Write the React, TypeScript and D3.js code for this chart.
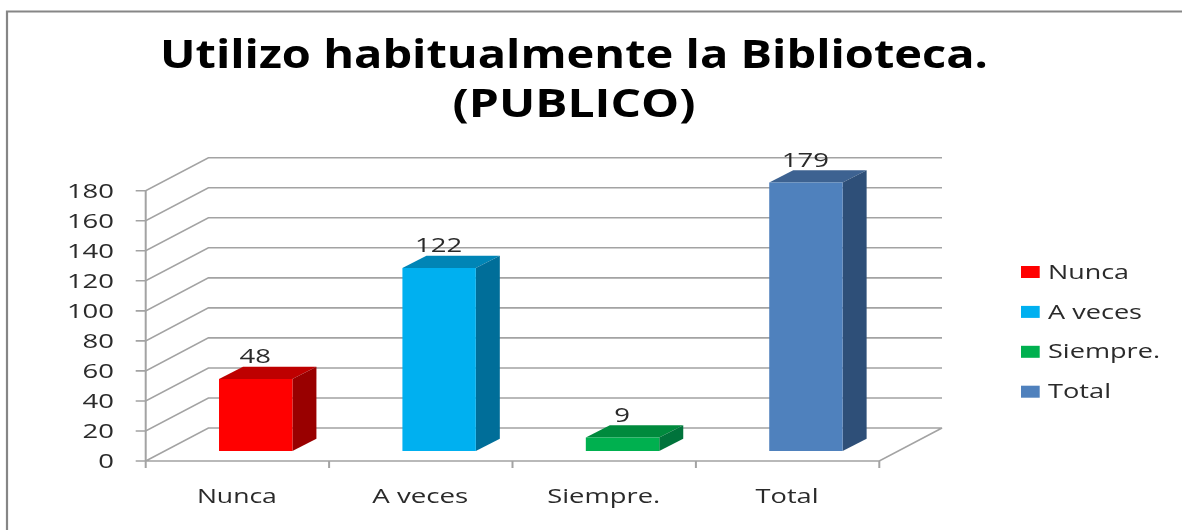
import React from "react";
import * as d3 from "d3";

const categories = ["Nunca", "A veces", "Siempre.", "Total"];
const values = [48, 122, 9, 179];
const frontColors = ["#FF0000", "#00B0F0", "#00B050", "#4F81BD"];
const topColors = ["#BE0000", "#0085B6", "#008A3E", "#3C6291"];
const sideColors = ["#990000", "#006E99", "#00733A", "#2F5078"];
const yTicks = [0, 20, 40, 60, 80, 100, 120, 140, 160, 180];
const catLabelWidths = [80, 96, 113, 63];
const legendLabelWidths = [81, 94, 112, 63];
const titleLines = ["Utilizo habitualmente la Biblioteca.", "(PUBLICO)"];

const W = 1182, H = 530;
const FONT = "'Open Sans', 'DejaVu Sans', sans-serif";
const GRID = "#a3a3a3";
const TEXT = "#2a2a2a";

const x = d3.scaleBand<string>().domain(categories).range([145.7, 879.3]).paddingInner(0.6).paddingOuter(0.3);
const band = (879.3 - 145.7) / 4;
const y = d3.scaleLinear().domain([0, 180]).range([461, 190.7]);
const yBar = d3.scaleLinear().domain([0, 180]).range([451, 181]);
const wall = { dx: 62.7, dy: -33 };
const barDepth = { dx: 24, dy: -12.3 };
const floorShift = 18.3;
const poly = (p: number[][]) => p.map((q) => q.join(",")).join(" ");

export default function App() {
  const x0 = 145.7, x1 = 879.3;
  const barW = 73.4;
  return (
    <svg width={W} height={H} viewBox={`0 0 ${W} ${H}`} style={{ position: "absolute", left: 0, top: 0, display: "block", background: "#fff" }}>
      <defs>
        <filter id="soft" x="-5%" y="-5%" width="110%" height="110%">
          <feGaussianBlur stdDeviation="0.5" />
        </filter>
      </defs>
      <g filter="url(#soft)">
        <path d={`M7 530V11.5H${W}`} fill="none" stroke="#868686" strokeWidth={2.2} />

        {titleLines.map((t, i) => (
          <text key={t} x={574} y={68 + i * 49} textAnchor="middle" fontFamily={FONT} fontWeight={700} fontSize={39} fill="#000"
            textLength={i === 0 ? 828 : 243} lengthAdjust="spacingAndGlyphs">{t}</text>
        ))}

        {yTicks.map((t) => (
          <g key={t}>
            <polyline points={poly([[x0 - 10, y(t)], [x0, y(t)], [x0 + wall.dx, y(t) + wall.dy], [x1 + wall.dx, y(t) + wall.dy]])}
              fill="none" stroke={GRID} strokeWidth={1.6} style={{ display: t === 0 ? "none" : undefined }} />
            {t === 0 && (
              <polyline points={poly([[x0 - 10, y(0)], [x1, y(0)], [x1 + wall.dx, y(0) + wall.dy], [x0 + wall.dx, y(0) + wall.dy], [x0, y(0)]])}
                fill="none" stroke={GRID} strokeWidth={1.6} />
            )}
            <text x={114} y={y(t) + 7} textAnchor="end" fontFamily={FONT} fontSize={20} fill={TEXT}
              textLength={String(t).length * 15.7} lengthAdjust="spacingAndGlyphs">{t}</text>
          </g>
        ))}
        <line x1={x0} x2={x0} y1={y(180)} y2={y(0) + 7} stroke={GRID} strokeWidth={2} />
        {d3.range(1, 5).map((i) => (
          <line key={i} x1={x0 + i * band} x2={x0 + i * band} y1={y(0)} y2={y(0) + 7} stroke={GRID} strokeWidth={2} />
        ))}

        {categories.map((c, i) => {
          const bx = (x(c) as number) + floorShift;
          const b0 = yBar(0), bt = yBar(values[i]);
          const { dx, dy } = barDepth;
          return (
            <g key={c}>
              <polygon points={poly([[bx, bt], [bx + dx, bt + dy], [bx + barW + dx, bt + dy], [bx + barW, bt]])} fill={topColors[i]} />
              <polygon points={poly([[bx + barW, bt], [bx + barW + dx, bt + dy], [bx + barW + dx, b0 + dy], [bx + barW, b0]])} fill={sideColors[i]} />
              <rect x={bx} y={bt} width={barW} height={b0 - bt} fill={frontColors[i]} />
              <text x={bx + barW / 2 - 0.5} y={bt - 16} textAnchor="middle" fontFamily={FONT} fontSize={20} fill={TEXT}
                textLength={String(values[i]).length * 15.7} lengthAdjust="spacingAndGlyphs">{values[i]}</text>
              <text x={x0 + band * (i + 0.5) - 0.5} y={503} textAnchor="middle" fontFamily={FONT} fontSize={20} fill={TEXT}
                textLength={catLabelWidths[i]} lengthAdjust="spacingAndGlyphs">{c}</text>
            </g>
          );
        })}

        {categories.map((c, i) => (
          <g key={c}>
            <rect x={1021} y={266 + i * 39.9} width={18.7} height={12} fill={frontColors[i]} />
            <text x={1048} y={279 + i * 39.7} fontFamily={FONT} fontSize={20} fill={TEXT}
              textLength={legendLabelWidths[i]} lengthAdjust="spacingAndGlyphs">{c}</text>
          </g>
        ))}
      </g>
    </svg>
  );
}
